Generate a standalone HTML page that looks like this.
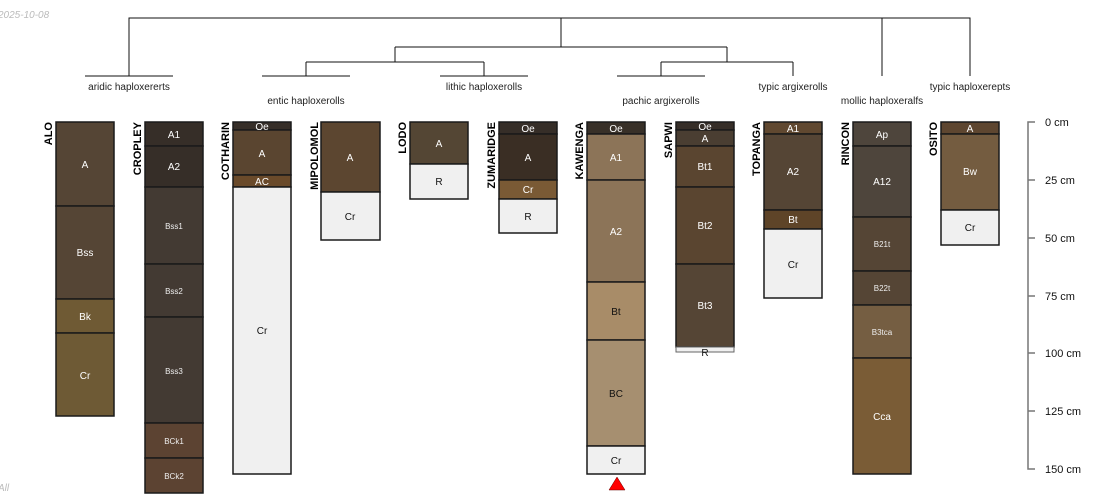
<!DOCTYPE html>
<html><head><meta charset="utf-8"><style>
html,body{margin:0;padding:0;background:#fff;}
svg{display:block;font-family:"Liberation Sans",sans-serif;}
.h{stroke:#1a1a1a;stroke-width:1.5;}
.t{font-size:10px;fill:#fff;text-anchor:middle;}
.s{font-size:8px;fill:#eee;text-anchor:middle;}
.k{font-size:10px;fill:#111;text-anchor:middle;}
.n{font-size:11px;font-weight:bold;fill:#000;}
.lab{font-size:10px;fill:#222;text-anchor:middle;}
.d{stroke:#111;stroke-width:1;fill:none;}
</style></head><body>
<svg width="1100" height="500" viewBox="0 0 1100 500">
<text x="-2" y="18" font-size="10" fill="#bbb" font-style="italic">2025-10-08</text>
<text x="-2" y="491" font-size="10" fill="#bbb" font-style="italic">All</text>

<!-- dendrogram -->
<path class="d" d="M129,76 V18 H970 V76 M882,18 V76 M561,18 V47 M395,47 H727 M395,47 V62 M306,62 H484 M306,62 V76 M484,62 V76 M727,47 V62 M661,62 H793 M661,62 V76 M793,62 V76"/>
<path class="d" d="M85,76 H173 M262,76 H350 M440,76 H528 M617,76 H705"/>
<text class="lab" x="129" y="90">aridic haploxererts</text>
<text class="lab" x="306" y="104">entic haploxerolls</text>
<text class="lab" x="484" y="90">lithic haploxerolls</text>
<text class="lab" x="661" y="104">pachic argixerolls</text>
<text class="lab" x="793" y="90">typic argixerolls</text>
<text class="lab" x="882" y="104">mollic haploxeralfs</text>
<text class="lab" x="970" y="90">typic haploxerepts</text>

<!-- names -->
<g class="n" text-anchor="end">
<text transform="translate(52,122) rotate(-90)">ALO</text>
<text transform="translate(141,122) rotate(-90)">CROPLEY</text>
<text transform="translate(229,122) rotate(-90)">COTHARIN</text>
<text transform="translate(318,122) rotate(-90)">MIPOLOMOL</text>
<text transform="translate(406,122) rotate(-90)">LODO</text>
<text transform="translate(495,122) rotate(-90)">ZUMARIDGE</text>
<text transform="translate(583,122) rotate(-90)">KAWENGA</text>
<text transform="translate(672,122) rotate(-90)">SAPWI</text>
<text transform="translate(760,122) rotate(-90)">TOPANGA</text>
<text transform="translate(849,122) rotate(-90)">RINCON</text>
<text transform="translate(937,122) rotate(-90)">OSITO</text>
</g>

<!-- ALO -->
<rect class="h" x="56" y="122" width="58" height="84" fill="#554535"/>
<rect class="h" x="56" y="206" width="58" height="93" fill="#554535"/>
<rect class="h" x="56" y="299" width="58" height="34" fill="#6f5a34"/>
<rect class="h" x="56" y="333" width="58" height="83" fill="#6e5a35"/>
<text class="t" x="85" y="168">A</text><text class="t" x="85" y="256">Bss</text><text class="t" x="85" y="320">Bk</text><text class="t" x="85" y="379">Cr</text>

<!-- CROPLEY -->
<rect class="h" x="145" y="122" width="58" height="24" fill="#362e28"/>
<rect class="h" x="145" y="146" width="58" height="41" fill="#362e28"/>
<rect class="h" x="145" y="187" width="58" height="77" fill="#433a33"/>
<rect class="h" x="145" y="264" width="58" height="53" fill="#433a33"/>
<rect class="h" x="145" y="317" width="58" height="106" fill="#433a33"/>
<rect class="h" x="145" y="423" width="58" height="35" fill="#5c4332"/>
<rect class="h" x="145" y="458" width="58" height="35" fill="#5c4332"/>
<text class="t" x="174" y="138">A1</text><text class="t" x="174" y="170">A2</text><text class="s" x="174" y="229">Bss1</text><text class="s" x="174" y="294">Bss2</text><text class="s" x="174" y="374">Bss3</text><text class="s" x="174" y="444">BCk1</text><text class="s" x="174" y="479">BCk2</text>

<!-- COTHARIN -->
<rect class="h" x="233" y="122" width="58" height="8" fill="#362e28"/>
<rect class="h" x="233" y="130" width="58" height="45" fill="#5a4530"/>
<rect class="h" x="233" y="175" width="58" height="12" fill="#6a4a2a"/>
<rect class="h" x="233" y="187" width="58" height="287" fill="#f0f0f0"/>
<text class="t" x="262" y="130">Oe</text><text class="t" x="262" y="157">A</text><text class="t" x="262" y="185">AC</text><text class="k" x="262" y="334">Cr</text>

<!-- MIPOLOMOL -->
<rect class="h" x="321" y="122" width="59" height="70" fill="#5c4630"/>
<rect class="h" x="321" y="192" width="59" height="48" fill="#f0f0f0"/>
<text class="t" x="350" y="161">A</text><text class="k" x="350" y="220">Cr</text>

<!-- LODO -->
<rect class="h" x="410" y="122" width="58" height="42" fill="#544634"/>
<rect class="h" x="410" y="164" width="58" height="35" fill="#f0f0f0"/>
<text class="t" x="439" y="147">A</text><text class="k" x="439" y="185">R</text>

<!-- ZUMARIDGE -->
<rect class="h" x="499" y="122" width="58" height="12" fill="#362e28"/>
<rect class="h" x="499" y="134" width="58" height="46" fill="#3a2e24"/>
<rect class="h" x="499" y="180" width="58" height="19" fill="#7a5a35"/>
<rect class="h" x="499" y="199" width="58" height="34" fill="#f0f0f0"/>
<text class="t" x="528" y="132">Oe</text><text class="t" x="528" y="161">A</text><text class="t" x="528" y="193">Cr</text><text class="k" x="528" y="220">R</text>

<!-- KAWENGA -->
<rect class="h" x="587" y="122" width="58" height="12" fill="#383028"/>
<rect class="h" x="587" y="134" width="58" height="46" fill="#8c7458"/>
<rect class="h" x="587" y="180" width="58" height="102" fill="#8c7458"/>
<rect class="h" x="587" y="282" width="58" height="58" fill="#a88c68"/>
<rect class="h" x="587" y="340" width="58" height="106" fill="#a68f70"/>
<rect class="h" x="587" y="446" width="58" height="28" fill="#f0f0f0"/>
<text class="t" x="616" y="132">Oe</text><text class="t" x="616" y="161">A1</text><text class="t" x="616" y="235">A2</text><text class="k" x="616" y="315">Bt</text><text class="k" x="616" y="397">BC</text><text class="k" x="616" y="464">Cr</text>
<polygon points="617,477 609,490 625,490" fill="#f00" stroke="#600" stroke-width="0.5"/>

<!-- SAPWI -->
<rect class="h" x="676" y="122" width="58" height="8" fill="#362e28"/>
<rect class="h" x="676" y="130" width="58" height="16" fill="#4a3e32"/>
<rect class="h" x="676" y="146" width="58" height="41" fill="#5a4530"/>
<rect class="h" x="676" y="187" width="58" height="77" fill="#5a4530"/>
<rect class="h" x="676" y="264" width="58" height="83" fill="#554535"/>
<rect x="676" y="347" width="58" height="5" fill="#f0f0f0" stroke="#666" stroke-width="1"/>
<text class="t" x="705" y="130">Oe</text><text class="t" x="705" y="142">A</text><text class="t" x="705" y="170">Bt1</text><text class="t" x="705" y="229">Bt2</text><text class="t" x="705" y="309">Bt3</text><text class="k" x="705" y="356">R</text>

<!-- TOPANGA -->
<rect class="h" x="764" y="122" width="58" height="12" fill="#604830"/>
<rect class="h" x="764" y="134" width="58" height="76" fill="#554535"/>
<rect class="h" x="764" y="210" width="58" height="19" fill="#5e4428"/>
<rect class="h" x="764" y="229" width="58" height="69" fill="#f0f0f0"/>
<text class="t" x="793" y="132">A1</text><text class="t" x="793" y="175">A2</text><text class="t" x="793" y="223">Bt</text><text class="k" x="793" y="268">Cr</text>

<!-- RINCON -->
<rect class="h" x="853" y="122" width="58" height="24" fill="#4e453c"/>
<rect class="h" x="853" y="146" width="58" height="71" fill="#4e453c"/>
<rect class="h" x="853" y="217" width="58" height="54" fill="#554535"/>
<rect class="h" x="853" y="271" width="58" height="34" fill="#554535"/>
<rect class="h" x="853" y="305" width="58" height="53" fill="#755e42"/>
<rect class="h" x="853" y="358" width="58" height="116" fill="#7a5c36"/>
<text class="t" x="882" y="138">Ap</text><text class="t" x="882" y="185">A12</text><text class="s" x="882" y="247">B21t</text><text class="s" x="882" y="291">B22t</text><text class="s" x="882" y="335">B3tca</text><text class="t" x="882" y="420">Cca</text>

<!-- OSITO -->
<rect class="h" x="941" y="122" width="58" height="12" fill="#5e4630"/>
<rect class="h" x="941" y="134" width="58" height="76" fill="#745c40"/>
<rect class="h" x="941" y="210" width="58" height="35" fill="#f0f0f0"/>
<text class="t" x="970" y="132">A</text><text class="t" x="970" y="175">Bw</text><text class="k" x="970" y="231">Cr</text>

<!-- axis -->
<path d="M1035,122 H1028 V469 H1035 M1028,180 H1035 M1028,238 H1035 M1028,296 H1035 M1028,353 H1035 M1028,411 H1035" stroke="#777" stroke-width="1.5" fill="none"/>
<g font-size="11" fill="#111">
<text x="1045" y="126">0 cm</text>
<text x="1045" y="184">25 cm</text>
<text x="1045" y="242">50 cm</text>
<text x="1045" y="300">75 cm</text>
<text x="1045" y="357">100 cm</text>
<text x="1045" y="415">125 cm</text>
<text x="1045" y="473">150 cm</text>
</g>
</svg>
</body></html>
